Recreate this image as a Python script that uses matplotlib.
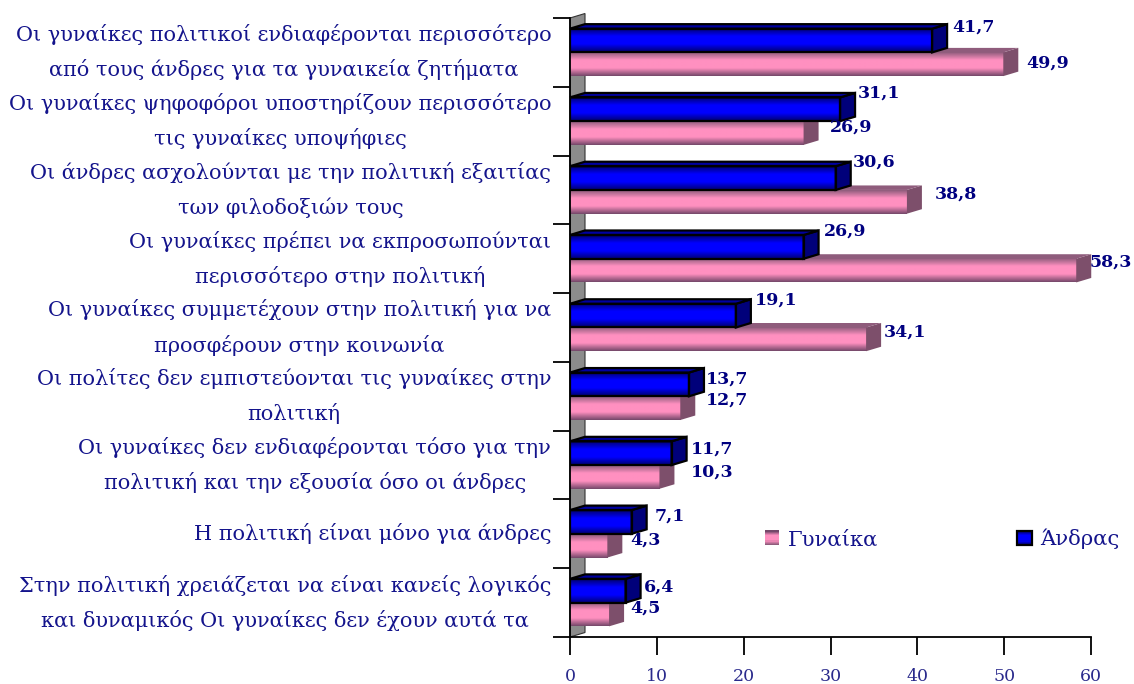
import numpy as np
import matplotlib
matplotlib.use("Agg")
import matplotlib.pyplot as plt
from matplotlib.colors import LinearSegmentedColormap
from matplotlib.legend_handler import HandlerBase
from matplotlib.patches import Patch, Polygon, Rectangle

categories = [
    "Οι γυναίκες πολιτικοί ενδιαφέρονται περισσότερο\nαπό τους άνδρες για τα γυναικεία ζητήματα",
    "Οι γυναίκες ψηφοφόροι υποστηρίζουν περισσότερο\nτις γυναίκες υποψήφιες",
    "Οι άνδρες ασχολούνται με την πολιτική εξαιτίας\nτων φιλοδοξιών τους",
    "Οι γυναίκες πρέπει να εκπροσωπούνται\nπερισσότερο στην πολιτική",
    "Οι γυναίκες συμμετέχουν στην πολιτική για να\nπροσφέρουν στην κοινωνία",
    "Οι πολίτες δεν εμπιστεύονται τις γυναίκες στην\nπολιτική",
    "Οι γυναίκες δεν ενδιαφέρονται τόσο για την\nπολιτική και την εξουσία όσο οι άνδρες",
    "Η πολιτική είναι μόνο για άνδρες",
    "Στην πολιτική χρειάζεται να είναι κανείς λογικός\nκαι δυναμικός Οι γυναίκες δεν έχουν αυτά τα",
]
men = [41.7, 31.1, 30.6, 26.9, 19.1, 13.7, 11.7, 7.1, 6.4]
women = [49.9, 26.9, 38.8, 58.3, 34.1, 12.7, 10.3, 4.3, 4.5]
x_ticks = [0, 10, 20, 30, 40, 50, 60]

# label offsets from the end of the 3D bar, pixels
men_label_dx = [5, 3, 2, 5, 4, 2, 4, 8, 3]
men_label_dy = [13, 16, 16, 16, 16, 5, 4, 6, 4]
women_label_dx = [8, 11, 13, -2, 3, 11, 16, 8, 6]
women_label_dy = [1, 6, 8, 8, 7, 8, 5, 6, 6]

W, H = 1134, 684
LEFT, RIGHT, TOP, BOTTOM = 570, 1091, 18, 637
NAVY = "#14148c"

plt.rcParams["font.family"] = ["DejaVu Serif"]

fig = plt.figure(figsize=(W / 100, H / 100), dpi=100)
ax = fig.add_axes([LEFT / W, 1 - BOTTOM / H, (RIGHT - LEFT) / W, (BOTTOM - TOP) / H])
ax.set_xlim(0, 60)
ax.set_ylim(len(categories), 0)

# size of one pixel in data units, for the fake 3D depth
px_x = 60 / (RIGHT - LEFT)
px_y = len(categories) / (BOTTOM - TOP)
dx = 15 * px_x
dy = 4.5 * px_y

pink_cmap = LinearSegmentedColormap.from_list("pink3d", ["#8f5c7c", "#ff90c0", "#ff90c0", "#75486a"])
blue_cmap = LinearSegmentedColormap.from_list("blue3d", ["#000070", "#0000ff", "#0000ff", "#000070"])
gradient = np.linspace(0, 1, 64).reshape(-1, 1)

y = np.arange(len(categories)) + 0.5
height = 0.345

# grey back wall
ax.add_patch(Polygon([(0, 0), (dx, -dy), (dx, len(categories) - dy), (0, len(categories))],
                     facecolor="#8c8c8c", edgecolor="#333333", linewidth=0.8, clip_on=False, zorder=1))


def draw_bars(values, centers, cmap, side, top, edge, lw, z):
    bars = ax.barh(centers, values, height=height, color="none", edgecolor=edge, linewidth=lw, zorder=z + 2)
    for bar, val in zip(bars, values):
        y0, y1 = bar.get_y(), bar.get_y() + bar.get_height()
        ax.imshow(gradient, extent=(0, val, y1, y0), origin="upper", aspect="auto", cmap=cmap, zorder=z)
        # right side and top of the box
        ax.add_patch(Polygon([(val, y0), (val + dx, y0 - dy), (val + dx, y1 - dy), (val, y1)],
                             facecolor=side, edgecolor=edge, linewidth=lw, clip_on=False, zorder=z + 1))
        ax.add_patch(Polygon([(0, y0), (dx, y0 - dy), (val + dx, y0 - dy), (val, y0)],
                             facecolor=top, edgecolor=edge, linewidth=lw, clip_on=False, zorder=z + 1))


draw_bars(women, y + height / 2, pink_cmap, "#7d4f6b", "#8f5c7c", "none", 0, 3)
draw_bars(men, y - height / 2, blue_cmap, "#00007a", "#0000a0", "black", 1.6, 7)
ax.set_xlim(0, 60)
ax.set_ylim(len(categories), 0)

# value labels
for i in range(len(categories)):
    ax.annotate(f"{men[i]:.1f}".replace(".", ","), (men[i] + dx, y[i] - height / 2),
                xytext=(men_label_dx[i] * 0.72, men_label_dy[i] * 0.72), textcoords="offset points",
                ha="left", va="center", fontsize=12.5, fontweight="bold", color="#000080",
                annotation_clip=False, zorder=12)
    ax.annotate(f"{women[i]:.1f}".replace(".", ","), (women[i] + dx, y[i] + height / 2),
                xytext=(women_label_dx[i] * 0.72, women_label_dy[i] * 0.72), textcoords="offset points",
                ha="left", va="center", fontsize=12.5, fontweight="bold", color="#000080",
                annotation_clip=False, zorder=12)

# axes: long ticks between the groups, text on the group centres
ax.spines["top"].set_visible(False)
ax.spines["right"].set_visible(False)
for s in ["left", "bottom"]:
    ax.spines[s].set_linewidth(1.3)
    ax.spines[s].set_zorder(11)
ax.set_yticks(np.arange(len(categories) + 1))
ax.set_yticklabels([])
ax.tick_params(axis="y", which="major", length=12.2, width=1.3)
ax.set_yticks(y, minor=True)
ax.set_yticklabels(categories, minor=True, fontsize=15.05, color=NAVY, linespacing=1.83,
                   multialignment="center", va="center")
ax.tick_params(axis="y", which="minor", length=0, pad=13.5)
ax.set_xticks(x_ticks)
ax.tick_params(axis="x", length=13, width=1.3, pad=9, labelsize=12.5, labelcolor="#2a2a8c")


class GradientHandle(HandlerBase):
    def __init__(self, cmap, edge):
        super().__init__()
        self.cmap = cmap
        self.edge = edge

    def create_artists(self, legend, orig_handle, xdescent, ydescent, width, height, fontsize, trans):
        side = 10.5
        x0, y0 = (width - side) / 2, (height - side) / 2
        parts = []
        for k in range(12):
            parts.append(Rectangle((x0, y0 + side * k / 12), side, side / 12 + 0.2, facecolor=self.cmap(k / 11),
                                   edgecolor="none", transform=trans))
        if self.edge:
            parts.append(Rectangle((x0, y0), side, side, facecolor="none", edgecolor=self.edge, linewidth=1.6,
                                   transform=trans))
        return parts


h_women, h_men = Patch(label="Γυναίκα"), Patch(label="Άνδρας")
ax.legend(handles=[h_women, h_men], ncol=2, frameon=False, fontsize=15.2, labelcolor=NAVY,
          handler_map={h_women: GradientHandle(pink_cmap, None), h_men: GradientHandle(blue_cmap, "black")},
          loc="center left", bbox_to_anchor=((759 - LEFT) / (RIGHT - LEFT), (BOTTOM - 539) / (BOTTOM - TOP)),
          borderaxespad=0, borderpad=0, handlelength=1.25, handletextpad=0.12, columnspacing=6.3)

plt.savefig("out.png", dpi=100)
